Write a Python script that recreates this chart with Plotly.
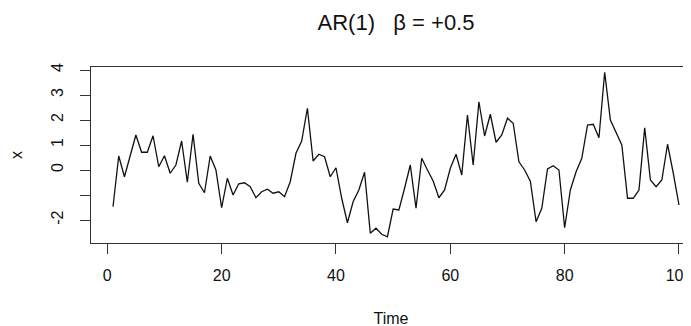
import plotly.graph_objects as go

time = list(range(1, 101))
x_values = [
    -1.47, 0.56, -0.27, 0.60, 1.40, 0.71, 0.71, 1.37, 0.13, 0.57,
    -0.13, 0.20, 1.16, -0.49, 1.43, -0.53, -0.91, 0.56, 0.00, -1.51,
    -0.33, -1.00, -0.55, -0.51, -0.67, -1.11, -0.87, -0.77, -0.93, -0.87,
    -1.07, -0.47, 0.67, 1.16, 2.47, 0.36, 0.63, 0.53, -0.27, 0.09,
    -1.13, -2.11, -1.27, -0.80, -0.09, -2.53, -2.33, -2.57, -2.67, -1.56,
    -1.60, -0.73, 0.20, -1.53, 0.47, 0.00, -0.44, -1.11, -0.80, 0.07,
    0.63, -0.20, 2.20, 0.20, 2.73, 1.36, 2.23, 1.11, 1.40, 2.07,
    1.87, 0.33, 0.00, -0.45, -2.07, -1.53, 0.04, 0.17, 0.00, -2.31,
    -0.80, -0.07, 0.47, 1.80, 1.83, 1.29, 3.91, 2.00, 1.53, 1.00,
    -1.13, -1.13, -0.80, 1.69, -0.40, -0.67, -0.40, 1.03, -0.13, -1.40,
]
x_ticks = [0, 20, 40, 60, 80, 100]
y_ticks = [-2, -1, 0, 1, 2, 3, 4]
y_ticktext = ["-2", "", "0", "1", "2", "3", "4"]
title_text = "AR(1)   \u03b2 = +0.5"

FONT = "Liberation Sans, Arial, sans-serif"

# The page body adds an 8px offset; the figure is shifted accordingly and
# the plot area ends exactly at the window's right edge.
W, H = 691, 326

fig = go.Figure()
fig.add_trace(go.Scatter(
    x=time, y=x_values, mode="lines",
    line=dict(color="#111111", width=1.3),
    hoverinfo="skip", showlegend=False,
))

fig.update_layout(
    template="none",
    width=W, height=H,
    margin=dict(l=83, r=8, t=59, b=91, pad=0),
    paper_bgcolor="white", plot_bgcolor="white",
    font=dict(family=FONT, size=16, color="#111111"),
    title=dict(text=title_text, x=388 / W, xanchor="center",
               y=1 - 14 / H, yanchor="middle", yref="container",
               font=dict(family=FONT, size=22, color="#111111")),
    xaxis=dict(
        automargin=False,
        range=[-2.85, 102.1], tickvals=x_ticks, ticktext=[str(v) for v in x_ticks],
        ticks="outside", ticklen=10, tickwidth=1, tickcolor="#333333",
        showline=True, linecolor="#333333", linewidth=1, mirror=True,
        showgrid=False, zeroline=False, ticklabeloverflow="allow",
        title=dict(text="Time", standoff=29, font=dict(size=16)),
        ticklabelstandoff=8,
    ),
    yaxis=dict(
        automargin=False,
        range=[-2.92, 4.12], tickvals=y_ticks, ticktext=y_ticktext,
        tickangle=-90,
        ticks="outside", ticklen=10, tickwidth=1, tickcolor="#333333",
        showline=True, linecolor="#333333", linewidth=1,
        showgrid=False, zeroline=False,
        title=dict(text="x", standoff=21, font=dict(size=16)),
        ticklabelstandoff=11,
    ),
)

fig.write_html("out.html")
